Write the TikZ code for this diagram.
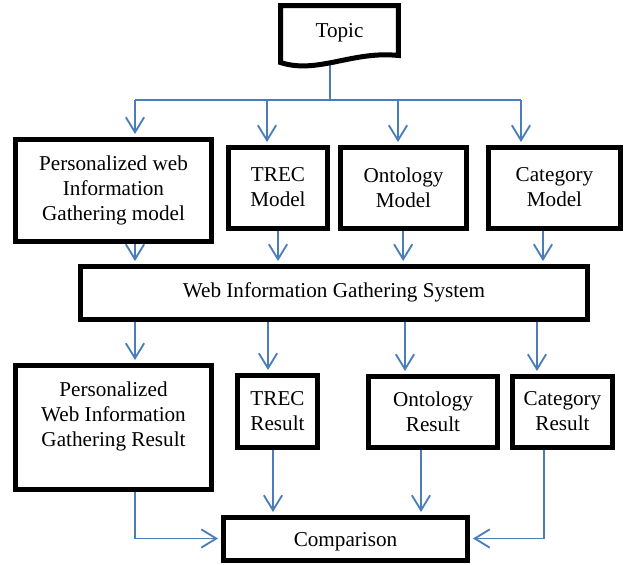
\documentclass[tikz,border=0pt]{standalone}
\usepackage{fontspec}
\setmainfont{Liberation Serif}
\usetikzlibrary{positioning,calc,arrows.meta,backgrounds}
\definecolor{linkblue}{RGB}{74,126,187}

\begin{document}
\begin{tikzpicture}[x=0.6pt,y=-0.6pt,
	blk/.style={draw,line width=3pt,fill=white,align=center,inner sep=0pt,font=\fontsize{12.7}{15}\selectfont},
	wire/.style={draw=linkblue,line width=1.1pt},
	link/.style={wire,-{Straight Barb[length=9pt,width=11pt]},shorten >=1.5pt}]
		\useasboundingbox (0,0) rectangle (624,565);
		% topic with wavy bottom
		\node[blk,draw=none,fill=none,minimum width=67.8pt,minimum height=27pt,text height=0.8em,text depth=0pt] (topic) at (339.5,30.5) {Topic};
		\draw[line width=3pt,line join=miter] (topic.south east) .. controls +(-46,-5) and +(37,12) .. ([yshift=-4.2pt]topic.south west) -- (topic.north west) -- (topic.north east) -- cycle;
		% models
		\node[blk,minimum width=118.2pt,minimum height=61.2pt] (pers) at (113.5,190) {Personalized web\\Information\\Gathering model};
		\node[blk,minimum width=60pt,minimum height=48.6pt] (trecM) at (278,187.5) {TREC\\Model};
		\node[blk,minimum width=76.2pt,minimum height=48.6pt] (ontoM) at (403.5,187.5) {Ontology\\Model};
		\node[blk,minimum width=79.8pt,minimum height=48.6pt] (catM) at (554.5,187.5) {Category\\Model};
		\node[blk,minimum width=304.8pt,minimum height=31.8pt] (wigs) at (334,292.5) {Web Information Gathering System};
		% results
		\node[blk,minimum width=118.2pt,minimum height=74.4pt] (persR) at (113.5,427) {Personalized\\Web Information\\Gathering Result\\\mbox{}};
		\node[blk,minimum width=48.6pt,minimum height=43.2pt] (trecR) at (277.5,411) {TREC\\Result};
		\node[blk,minimum width=78pt,minimum height=42.6pt] (ontoR) at (433,411.5) {Ontology\\Result};
		\node[blk,minimum width=60.6pt,minimum height=42.6pt] (catR) at (562.5,411.5) {Category\\Result};
		\node[blk,minimum width=147pt,minimum height=25.8pt,text height=0.9em,text depth=0pt] (comp) at (345.5,538.5) {Comparison};
		\begin{scope}[on background layer]
		\coordinate (tstem) at (330,63);
		\coordinate (bus) at (330,100);
		\path (pers.north) ++(21.5,0) coordinate (a1)
			(trecM.north) ++(-11,0) coordinate (a2)
			(ontoM.north) ++(-5.5,0) coordinate (a3)
			(catM.north) ++(-33.5,0) coordinate (a4);
		\draw[wire] (tstem) -- (bus);
		\draw[wire] (a1 |- bus) -- (a4 |- bus);
		\foreach \col in {a1,a2,a3,a4} \draw[link] (\col |- bus) -- (\col);
		% models to system
		\path (catM.south) ++(-11.5,0) coordinate (m4)
			(ontoM.south) ++(-0.3,0) coordinate (m3);
		\draw[link] (a1 |- pers.south) -- (a1 |- wigs.north);
		\draw[link] (trecM.south) -- (trecM.south |- wigs.north);
		\draw[link] (m3) -- (m3 |- wigs.north);
		\draw[link] (m4) -- (m4 |- wigs.north);
		% system to results
		\path (trecR.north) ++(-9.5,0) coordinate (r2)
			(ontoR.north) ++(-28,0) coordinate (r3)
			(catR.north) ++(-25.5,0) coordinate (r4);
		\draw[link] (a1 |- wigs.south) -- (a1 |- persR.north);
		\foreach \col in {r2,r3,r4} \draw[link] (\col |- wigs.south) -- (\col);
		% results to comparison
		\path (trecR.south) ++(-4.5,0) coordinate (s2)
			(ontoR.south) ++(-12,0) coordinate (s3)
			(catR.south) ++(-18.5,0) coordinate (s4);
		\draw[link] (a1 |- persR.south) -- (a1 |- comp.west) -- (comp.west);
		\draw[link] (s2) -- (s2 |- comp.north);
		\draw[link] (s3) -- (s3 |- comp.north);
		\draw[link] (s4) -- (s4 |- comp.east) -- (comp.east);
		\end{scope}
\end{tikzpicture}
\end{document}
